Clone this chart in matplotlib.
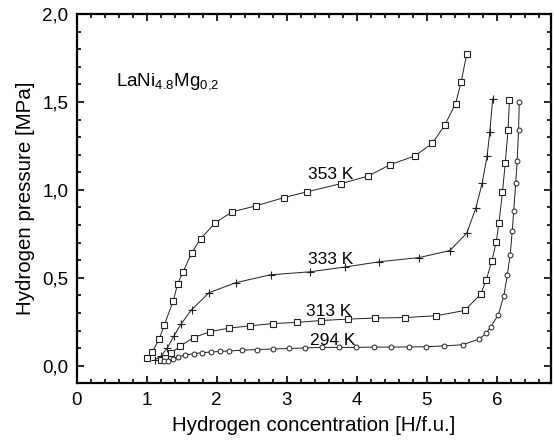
import matplotlib
matplotlib.use('Agg')
import matplotlib.pyplot as plt
from matplotlib.ticker import MultipleLocator, FuncFormatter

plt.rcParams['font.family'] = ['Liberation Sans', 'DejaVu Sans']
plt.rcParams['mathtext.fontset'] = 'custom'
plt.rcParams['mathtext.rm'] = 'Liberation Sans'

# 353 K (open squares)
x353 = [1.01, 1.08, 1.18, 1.25, 1.38, 1.44, 1.52, 1.64, 1.77, 1.98, 2.22, 2.56,
        2.96, 3.29, 3.78, 4.16, 4.48, 4.83, 5.08, 5.26, 5.41, 5.49, 5.57]
p353 = [0.045, 0.079, 0.153, 0.231, 0.369, 0.464, 0.534, 0.640, 0.722, 0.813, 0.875, 0.909,
        0.956, 0.989, 1.036, 1.078, 1.144, 1.193, 1.265, 1.371, 1.490, 1.614, 1.773]

# 333 K (plus)
x333 = [1.12, 1.20, 1.29, 1.39, 1.49, 1.64, 1.89, 2.27, 2.77, 3.33, 3.83, 4.32,
        4.89, 5.33, 5.57, 5.70, 5.79, 5.86, 5.90, 5.94]
p333 = [0.034, 0.053, 0.098, 0.170, 0.237, 0.318, 0.415, 0.472, 0.517, 0.534, 0.561, 0.591,
        0.615, 0.655, 0.754, 0.896, 1.038, 1.191, 1.331, 1.517]

# 313 K (open squares)
x313 = [1.20, 1.26, 1.35, 1.48, 1.67, 1.91, 2.18, 2.48, 2.81, 3.14, 3.49, 3.87, 4.26,
        4.69, 5.13, 5.54, 5.77, 5.85, 5.93, 5.99, 6.03, 6.08, 6.12, 6.16, 6.18]
p313 = [0.030, 0.042, 0.072, 0.112, 0.160, 0.194, 0.214, 0.227, 0.240, 0.246, 0.257, 0.265, 0.271,
        0.274, 0.284, 0.314, 0.407, 0.489, 0.598, 0.701, 0.811, 0.985, 1.155, 1.339, 1.510]

# 294 K (open circles)
x294 = [1.24, 1.31, 1.37, 1.44, 1.54, 1.67, 1.79, 1.92, 2.05, 2.17, 2.36, 2.58, 2.80,
        3.03, 3.26, 3.50, 3.75, 3.99, 4.24, 4.49, 4.75, 4.99, 5.25, 5.51, 5.75, 5.85,
        5.91, 6.02, 6.10, 6.15, 6.19, 6.22, 6.24, 6.27, 6.29, 6.31, 6.32]
p294 = [0.025, 0.028, 0.036, 0.049, 0.060, 0.068, 0.074, 0.078, 0.081, 0.084, 0.088, 0.092, 0.095,
        0.098, 0.101, 0.104, 0.104, 0.104, 0.106, 0.106, 0.107, 0.108, 0.113, 0.119, 0.152, 0.185,
        0.220, 0.289, 0.398, 0.516, 0.632, 0.765, 0.880, 1.040, 1.165, 1.343, 1.500]

labels = ['353 K', '333 K', '313 K', '294 K']
label_x = [3.31, 3.31, 3.28, 3.33]
label_y = [1.061, 0.578, 0.280, 0.119]

fig = plt.figure(figsize=(5.54, 4.46), dpi=100)
ax = fig.add_axes([0.1384, 0.1406, 0.8558, 0.828])

line_kw = dict(color='#202020', linewidth=0.7)
ax.plot(x353, p353, marker='s', markersize=4.5, markerfacecolor='white',
        markeredgecolor='#202020', markeredgewidth=0.8, **line_kw)
ax.plot(x333, p333, marker='+', markersize=5.5, markeredgecolor='#202020',
        markeredgewidth=0.8, **line_kw)
ax.plot(x313, p313, marker='s', markersize=4.5, markerfacecolor='white',
        markeredgecolor='#202020', markeredgewidth=0.8, **line_kw)
ax.plot(x294, p294, marker='o', markersize=3.5, markerfacecolor='white',
        markeredgecolor='#202020', markeredgewidth=0.7, **line_kw)

for t, tx, ty in zip(labels, label_x, label_y):
    ax.text(tx, ty, t, fontsize=12.5, ha='left', va='baseline')

ax.text(0.56, 1.587, r'LaNi$_{\mathregular{4.8}}$Mg$_{\mathregular{0{,}2}}$',
        fontsize=13.5, ha='left', va='baseline')

ax.set_xlim(0, 6.77)
ax.set_ylim(-0.1, 2.0)
ax.xaxis.set_major_locator(MultipleLocator(1))
ax.xaxis.set_minor_locator(MultipleLocator(0.2))
ax.yaxis.set_major_locator(MultipleLocator(0.5))
ax.yaxis.set_minor_locator(MultipleLocator(0.1))
ax.yaxis.set_major_formatter(FuncFormatter(lambda v, p: f'{v:.1f}'.replace('.', ',')))
ax.xaxis.set_major_formatter(FuncFormatter(lambda v, p: f'{v:.0f}'))

ax.tick_params(which='both', direction='in', top=True, right=True, width=1.2,
               labelsize=13.5, pad=6)
ax.tick_params(which='major', length=5)
ax.tick_params(which='minor', length=3)
for s in ax.spines.values():
    s.set_linewidth(1.6)

ax.set_xlabel('Hydrogen concentration [H/f.u.]', fontsize=14.8, labelpad=5)
ax.set_ylabel('Hydrogen pressure [MPa]', fontsize=14.8, labelpad=5)

fig.savefig('out.png', dpi=100)
